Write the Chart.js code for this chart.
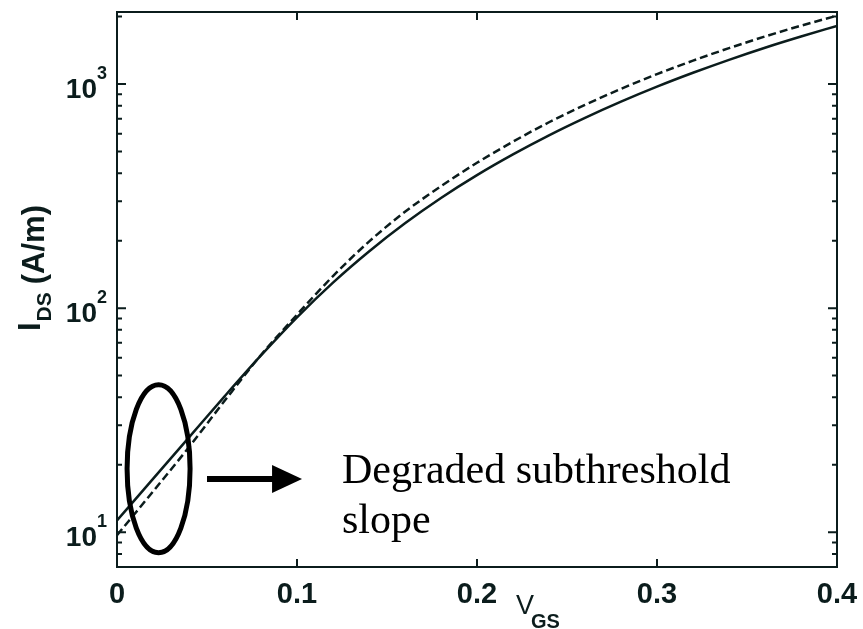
<!DOCTYPE html>
<html>
<head>
<meta charset="utf-8">
<script src="https://cdn.jsdelivr.net/npm/chart.js@4.4.0/dist/chart.umd.min.js"></script>
<style>
  html, body { margin: 0; padding: 0; background: #fff; }
  #wrap { width: 863px; height: 629px; }
</style>
</head>
<body>
<div id="wrap"><canvas id="ivChart" width="863" height="629"></canvas></div>
<script>
// gate voltage (V) and drain current (A/m)
const vgs = [0, 0.02, 0.04, 0.06, 0.08, 0.10, 0.12, 0.14, 0.16, 0.18, 0.20,
             0.22, 0.24, 0.26, 0.28, 0.30, 0.32, 0.34, 0.36, 0.38, 0.40];
const idsSolid = [11.3, 17.3, 26.5, 40.6, 61.5, 91, 130, 179, 239, 310, 392,
                  485, 590, 706, 834, 973, 1122, 1282, 1452, 1629, 1816];
const idsDashed = [9.7, 15.2, 24.0, 38.8, 61.8, 93.5, 139, 198, 269, 350, 445,
                   553, 675, 807, 951, 1107, 1271, 1445, 1629, 1820, 2018];

const xTickValues = [0, 0.1, 0.2, 0.3, 0.4];
const xTickLabels = ["0", "0.1", "0.2", "0.3", "0.4"];
const yDecades = [10, 100, 1000];
const yExponents = ["1", "2", "3"];
const yMinorTicks = [7, 8, 9, 20, 30, 40, 50, 60, 70, 80, 90,
                     200, 300, 400, 500, 600, 700, 800, 900, 2000];
const noteLines = ["Degraded subthreshold", "slope"];

const INK = "#0b1c1c";

// annotation placed in data units
const note = {
  ellipseV: 0.0231, ellipseI: 19.2, ellipseHalfV: 0.0175, ellipseTopI: 45.5,
  arrowFromV: 0.050, arrowToV: 0.1028, arrowI: 17.3,
  textV: 0.125, textI: [16.6, 9.9]
};

function toPoints(ys) {
  return vgs.map((v, i) => ({ x: v, y: ys[i] }));
}

const figurePlugin = {
  id: "figure",
  afterDraw(chart) {
    const ctx = chart.ctx;
    const a = chart.chartArea;
    const xs = chart.scales.x;
    const ys = chart.scales.y;
    ctx.save();

    // frame
    ctx.strokeStyle = INK;
    ctx.lineWidth = 2;
    ctx.strokeRect(a.left, a.top, a.right - a.left, a.bottom - a.top);

    // inward ticks
    ctx.beginPath();
    xTickValues.forEach(v => {
      const px = xs.getPixelForValue(v);
      ctx.moveTo(px, a.bottom); ctx.lineTo(px, a.bottom - 8);
      ctx.moveTo(px, a.top); ctx.lineTo(px, a.top + 8);
    });
    yDecades.forEach(v => {
      const py = ys.getPixelForValue(v);
      ctx.moveTo(a.left, py); ctx.lineTo(a.left + 9, py);
      ctx.moveTo(a.right, py); ctx.lineTo(a.right - 9, py);
    });
    yMinorTicks.forEach(v => {
      const py = ys.getPixelForValue(v);
      ctx.moveTo(a.left, py); ctx.lineTo(a.left + 5, py);
      ctx.moveTo(a.right, py); ctx.lineTo(a.right - 5, py);
    });
    ctx.stroke();

    // x tick labels
    ctx.fillStyle = INK;
    ctx.font = "bold 29px 'Liberation Sans', Arial, sans-serif";
    ctx.textAlign = "center";
    ctx.textBaseline = "alphabetic";
    xTickValues.forEach((v, i) => {
      ctx.fillText(xTickLabels[i], xs.getPixelForValue(v), a.bottom + 36);
    });

    // y tick labels 10^n
    yDecades.forEach((v, i) => {
      const py = ys.getPixelForValue(v);
      ctx.font = "bold 28px 'Liberation Sans', Arial, sans-serif";
      ctx.textAlign = "right";
      ctx.fillText("10", a.left - 20, py + 14);
      ctx.font = "bold 18px 'Liberation Sans', Arial, sans-serif";
      ctx.textAlign = "left";
      ctx.fillText(yExponents[i], a.left - 20, py - 5);
    });

    // x title V_GS
    ctx.textAlign = "left";
    ctx.font = "27px 'Liberation Sans', Arial, sans-serif";
    ctx.fillText("V", 516, a.bottom + 47);
    ctx.font = "bold 20px 'Liberation Sans', Arial, sans-serif";
    ctx.fillText("GS", 531, a.bottom + 61);

    // y title I_DS (A/m)
    ctx.save();
    ctx.translate(40, 331);
    ctx.rotate(-Math.PI / 2);
    ctx.textAlign = "left";
    ctx.font = "bold 31px 'Liberation Sans', Arial, sans-serif";
    ctx.fillText("I", 0, 0);
    let off = ctx.measureText("I").width + 1;
    ctx.font = "bold 21px 'Liberation Sans', Arial, sans-serif";
    ctx.fillText("DS", off, 11);
    off += ctx.measureText("DS").width + 8;
    ctx.font = "bold 31px 'Liberation Sans', Arial, sans-serif";
    ctx.fillText("(A/m)", off, 4);
    ctx.restore();

    // ellipse around low-current region
    const cx = xs.getPixelForValue(note.ellipseV);
    const cy = ys.getPixelForValue(note.ellipseI);
    const rx = xs.getPixelForValue(note.ellipseV + note.ellipseHalfV) - cx;
    const ry = cy - ys.getPixelForValue(note.ellipseTopI);
    ctx.strokeStyle = "#000";
    ctx.lineWidth = 5;
    ctx.beginPath();
    ctx.ellipse(cx, cy, rx, ry, 0, 0, Math.PI * 2);
    ctx.stroke();

    // arrow
    const ax0 = xs.getPixelForValue(note.arrowFromV);
    const ax1 = xs.getPixelForValue(note.arrowToV);
    const ay = ys.getPixelForValue(note.arrowI);
    ctx.lineWidth = 6;
    ctx.beginPath();
    ctx.moveTo(ax0, ay);
    ctx.lineTo(ax1 - 26, ay);
    ctx.stroke();
    ctx.fillStyle = "#000";
    ctx.beginPath();
    ctx.moveTo(ax1, ay);
    ctx.lineTo(ax1 - 30, ay - 14);
    ctx.lineTo(ax1 - 30, ay + 14);
    ctx.closePath();
    ctx.fill();

    // note text
    ctx.font = "42px 'Liberation Serif', 'Times New Roman', serif";
    ctx.textAlign = "left";
    const tx = xs.getPixelForValue(note.textV);
    noteLines.forEach((line, i) => {
      ctx.fillText(line, tx, ys.getPixelForValue(note.textI[i]));
    });

    ctx.restore();
  }
};

new Chart(document.getElementById("ivChart"), {
  type: "line",
  data: {
    datasets: [
      {
        label: "solid",
        data: toPoints(idsSolid),
        borderColor: INK,
        borderWidth: 2.5,
        pointRadius: 0,
        cubicInterpolationMode: "monotone",
        fill: false
      },
      {
        label: "dashed",
        data: toPoints(idsDashed),
        borderColor: INK,
        borderWidth: 2.5,
        borderDash: [8, 4],
        pointRadius: 0,
        cubicInterpolationMode: "monotone",
        fill: false
      }
    ]
  },
  options: {
    responsive: false,
    animation: false,
    devicePixelRatio: 1,
    layout: { padding: { left: 0, top: 12, right: 26, bottom: 0 } },
    plugins: {
      legend: { display: false },
      tooltip: { enabled: false }
    },
    scales: {
      x: {
        type: "linear",
        min: 0,
        max: 0.4,
        grid: { display: false },
        border: { display: false },
        ticks: { display: false },
        afterFit: (scale) => { scale.height = 62; }
      },
      y: {
        type: "logarithmic",
        min: 7,
        max: 2095,
        grid: { display: false },
        border: { display: false },
        ticks: { display: false },
        afterFit: (scale) => { scale.width = 117; }
      }
    }
  },
  plugins: [figurePlugin]
});
</script>
</body>
</html>
